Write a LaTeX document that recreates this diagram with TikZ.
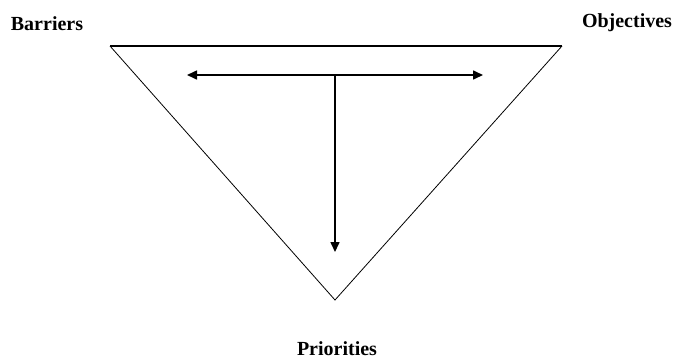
\documentclass[tikz,border=0pt]{standalone}
\usepackage{fontspec}
\setmainfont{Liberation Serif}
\usetikzlibrary{arrows.meta}
\begin{document}
\begin{tikzpicture}[x=1pt,y=-1pt,
  lbl/.style={font=\fontsize{20}{22}\selectfont\bfseries, inner sep=0pt},
  arr/.style={line width=1.6pt,-{Triangle[length=10pt,width=9pt]}}]
\useasboundingbox (0,0) rectangle (674,359);
\coordinate (tl) at (110,46);
\coordinate (tr) at (562,46);
\coordinate (ap) at (335,300);
\draw[line width=1.5pt] (tl) -- (tr);
\draw[line width=0.8pt] (tl) -- (ap) -- (tr);
\coordinate (hl) at (187,75);
\coordinate (hr) at (483,75);
\coordinate (hm) at (335,75);
\coordinate (vb) at (335,252);
\draw[arr] (hm) -- (hl);
\draw[arr] (hm) -- (hr);
\draw[arr] (hm) -- (vb);
\node[lbl] (b) at (47,24) {Barriers};
\node[lbl] (o) at (627,23) {Objectives};
\node[lbl] (p) at (337,349) {Priorities};
\end{tikzpicture}
\end{document}
